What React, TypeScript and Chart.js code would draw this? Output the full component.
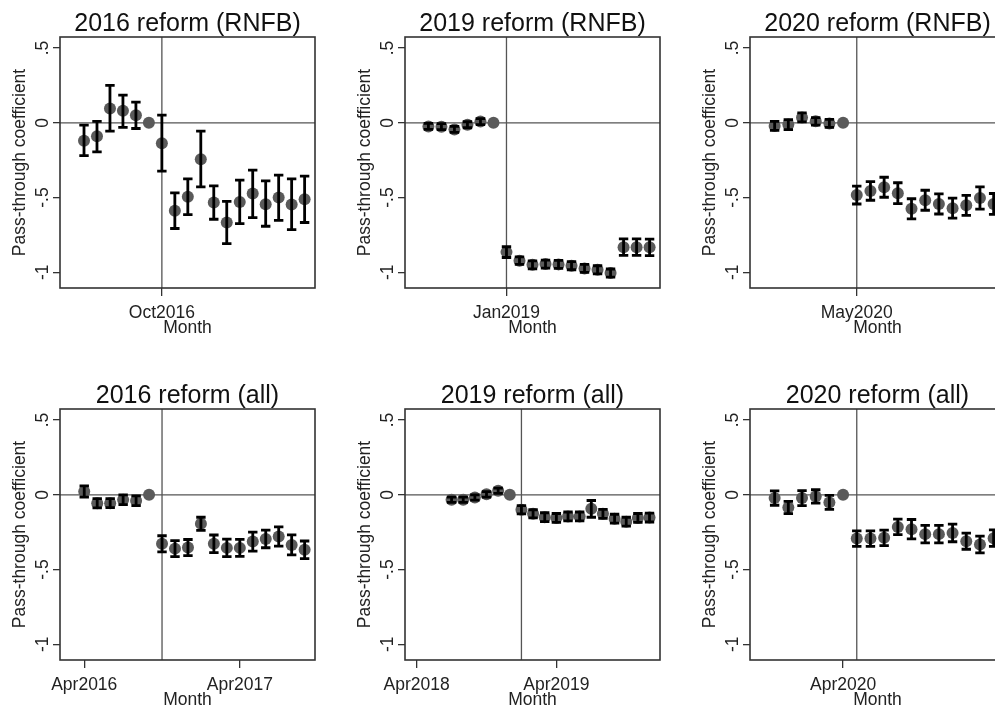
import React, { useEffect, useRef } from "react";
import { Chart, registerables } from "chart.js";

Chart.register(...registerables);

// ---------- data ----------
const months2016 = [
  "Apr2016", "May2016", "Jun2016", "Jul2016", "Aug2016", "Sep2016",
  "Oct2016", "Nov2016", "Dec2016", "Jan2017", "Feb2017", "Mar2017",
  "Apr2017", "May2017", "Jun2017", "Jul2017", "Aug2017", "Sep2017",
];
const months2019 = [
  "Jul2018", "Aug2018", "Sep2018", "Oct2018", "Nov2018", "Dec2018",
  "Jan2019", "Feb2019", "Mar2019", "Apr2019", "May2019", "Jun2019",
  "Jul2019", "Aug2019", "Sep2019", "Oct2019", "Nov2019", "Dec2019",
];
const months2020 = [
  "Nov2019", "Dec2019", "Jan2020", "Feb2020", "Mar2020", "Apr2020",
  "May2020", "Jun2020", "Jul2020", "Aug2020", "Sep2020", "Oct2020",
  "Nov2020", "Dec2020", "Jan2021", "Feb2021", "Mar2021",
];

// 2016 reform (RNFB)
const coef2016rnfb = [-0.12, -0.09, 0.095, 0.08, 0.05, 0, -0.136, -0.589, -0.495, -0.243, -0.533, -0.667, -0.529, -0.473, -0.545, -0.5, -0.547, -0.511];
const lo2016rnfb = [-0.22, -0.195, -0.055, -0.03, -0.038, null, -0.323, -0.707, -0.614, -0.428, -0.645, -0.808, -0.674, -0.634, -0.692, -0.652, -0.714, -0.667];
const hi2016rnfb = [-0.015, 0.01, 0.25, 0.185, 0.138, null, 0.052, -0.469, -0.375, -0.056, -0.422, -0.525, -0.384, -0.317, -0.388, -0.35, -0.375, -0.357];

// 2019 reform (RNFB)
const coef2019rnfb = [-0.024, -0.026, -0.044, -0.013, 0.008, 0, -0.865, -0.922, -0.95, -0.945, -0.947, -0.956, -0.974, -0.983, -1.005, -0.832, -0.832, -0.833];
const lo2019rnfb = [-0.044, -0.046, -0.064, -0.033, -0.012, null, -0.901, -0.947, -0.977, -0.972, -0.974, -0.983, -1.001, -1.01, -1.032, -0.887, -0.887, -0.888];
const hi2019rnfb = [-0.004, -0.006, -0.024, 0.007, 0.028, null, -0.829, -0.897, -0.923, -0.918, -0.92, -0.929, -0.947, -0.956, -0.978, -0.777, -0.777, -0.778];

// 2020 reform (RNFB)
const coef2020rnfb = [-0.021, -0.012, 0.036, 0.01, -0.004, 0, -0.483, -0.456, -0.431, -0.471, -0.575, -0.518, -0.543, -0.571, -0.552, -0.503, -0.543];
const lo2020rnfb = [-0.051, -0.045, 0.006, -0.015, -0.031, null, -0.543, -0.518, -0.498, -0.541, -0.642, -0.585, -0.61, -0.638, -0.619, -0.578, -0.613];
const hi2020rnfb = [0.009, 0.021, 0.066, 0.035, 0.023, null, -0.423, -0.394, -0.364, -0.401, -0.508, -0.451, -0.476, -0.504, -0.485, -0.428, -0.473];

// 2016 reform (all)
const coef2016all = [0.022, -0.056, -0.056, -0.033, -0.04, 0, -0.328, -0.36, -0.353, -0.194, -0.328, -0.355, -0.355, -0.313, -0.295, -0.279, -0.335, -0.368];
const lo2016all = [-0.016, -0.087, -0.086, -0.066, -0.073, null, -0.382, -0.414, -0.407, -0.238, -0.387, -0.414, -0.412, -0.377, -0.354, -0.343, -0.402, -0.427];
const hi2016all = [0.06, -0.025, -0.026, 0.0, -0.007, null, -0.274, -0.306, -0.299, -0.15, -0.269, -0.296, -0.298, -0.249, -0.236, -0.215, -0.268, -0.309];

// 2019 reform (all)
const coef2019all = [-0.033, -0.033, -0.018, 0.003, 0.027, 0, -0.1, -0.127, -0.15, -0.155, -0.145, -0.145, -0.094, -0.127, -0.16, -0.18, -0.155, -0.152];
const lo2019all = [-0.051, -0.051, -0.036, -0.015, 0.009, null, -0.127, -0.154, -0.18, -0.185, -0.175, -0.175, -0.15, -0.157, -0.19, -0.21, -0.185, -0.182];
const hi2019all = [-0.015, -0.015, 0.0, 0.021, 0.045, null, -0.073, -0.1, -0.12, -0.125, -0.115, -0.115, -0.038, -0.097, -0.13, -0.15, -0.125, -0.122];

// 2020 reform (all)
const coef2020all = [-0.022, -0.085, -0.022, -0.011, -0.051, 0, -0.293, -0.293, -0.288, -0.215, -0.23, -0.263, -0.263, -0.255, -0.31, -0.333, -0.29];
const lo2020all = [-0.07, -0.126, -0.072, -0.056, -0.098, null, -0.345, -0.345, -0.34, -0.267, -0.295, -0.321, -0.321, -0.314, -0.364, -0.389, -0.345];
const hi2020all = [0.026, -0.044, 0.028, 0.034, -0.004, null, -0.241, -0.241, -0.236, -0.163, -0.165, -0.205, -0.205, -0.196, -0.256, -0.277, -0.235];

const yTickValues = [-1, -0.5, 0, 0.5];
const yTickLabels = ["-1", "-.5", "0", ".5"];

const xTicks2016rnfb = ["Oct2016"];
const xTicks2019rnfb = ["Jan2019"];
const xTicks2020rnfb = ["May2020"];
const xTicks2016all = ["Apr2016", "Apr2017"];
const xTicks2019all = ["Apr2018", "Apr2019"];
const xTicks2020all = ["Apr2020"];

// ---------- helpers ----------
const MONTH_NAMES = ["Jan", "Feb", "Mar", "Apr", "May", "Jun", "Jul", "Aug", "Sep", "Oct", "Nov", "Dec"];
function monthNum(s: string): number {
  return parseInt(s.slice(3), 10) * 12 + MONTH_NAMES.indexOf(s.slice(0, 3));
}

const FONT = "'Liberation Sans', Arial, Helvetica, sans-serif";
const TEXT = "#222";
const LINE = "#333";

type PanelProps = {
  title: string;
  months: string[];
  coef: number[];
  lo: (number | null)[];
  hi: (number | null)[];
  reform: string;
  xTicks: string[];
  xMin: number;
  xMax: number;
  left: number;
  top: number;
};

const W = 345;
const H = 345;

function Panel(p: PanelProps) {
  const ref = useRef<HTMLCanvasElement | null>(null);
  useEffect(() => {
    if (!ref.current) return;
    const base = monthNum(p.reform);
    const xs = p.months.map((m) => monthNum(m) - base);
    const tickVals = p.xTicks.map((m) => monthNum(m) - base);

    const refLines = {
      id: "refLines",
      beforeDatasetsDraw(chart: any) {
        const { ctx, chartArea: a, scales } = chart;
        const y0 = scales.y.getPixelForValue(0);
        const x0 = scales.x.getPixelForValue(0);
        ctx.save();
        ctx.strokeStyle = "#555";
        ctx.lineWidth = 1.3;
        ctx.beginPath();
        ctx.moveTo(a.left, y0);
        ctx.lineTo(a.right, y0);
        ctx.moveTo(x0, a.top);
        ctx.lineTo(x0, a.bottom);
        ctx.stroke();
        ctx.restore();
      },
    };

    const errorBars = {
      id: "errorBars",
      afterDatasetsDraw(chart: any) {
        const { ctx, scales } = chart;
        ctx.save();
        ctx.strokeStyle = "#000";
        ctx.lineWidth = 2.8;
        ctx.lineCap = "butt";
        xs.forEach((xv, i) => {
          const l = p.lo[i];
          const h = p.hi[i];
          if (l === null || h === null) return;
          const x = scales.x.getPixelForValue(xv);
          const yl = scales.y.getPixelForValue(l);
          const yh = scales.y.getPixelForValue(h);
          const cw = 4.7;
          ctx.beginPath();
          ctx.moveTo(x, yl);
          ctx.lineTo(x, yh);
          ctx.moveTo(x - cw, yl);
          ctx.lineTo(x + cw, yl);
          ctx.moveTo(x - cw, yh);
          ctx.lineTo(x + cw, yh);
          ctx.stroke();
        });
        ctx.restore();
      },
    };

    const frame = {
      id: "frame",
      afterDraw(chart: any) {
        const { ctx, chartArea: a } = chart;
        ctx.save();
        ctx.strokeStyle = LINE;
        ctx.lineWidth = 1.6;
        ctx.strokeRect(a.left, a.top, a.right - a.left, a.bottom - a.top);
        ctx.restore();
      },
    };

    const chart = new Chart(ref.current, {
      type: "scatter",
      data: {
        datasets: [
          {
            data: xs.map((x, i) => ({ x, y: p.coef[i] })),
            pointRadius: 6,
            pointHoverRadius: 6,
            backgroundColor: "#5a5a5a",
            borderWidth: 0,
          },
        ],
      },
      options: {
        responsive: false,
        animation: false,
        devicePixelRatio: 1,
        events: [],
        layout: { padding: { left: 0, right: 30, top: 0, bottom: 0 } },
        plugins: {
          legend: { display: false },
          tooltip: { enabled: false },
          title: {
            display: true,
            text: p.title,
            fullSize: false,
            color: "#111",
            font: { family: FONT, size: 25, weight: "normal", lineHeight: 1 },
            padding: { top: 12, bottom: 0 },
          },
        },
        scales: {
          x: {
            type: "linear",
            min: p.xMin,
            max: p.xMax,
            afterBuildTicks: (s: any) => {
              s.ticks = tickVals.map((v) => ({ value: v }));
            },
            afterFit: (s: any) => {
              s.height = 57;
            },
            ticks: {
              autoSkip: false,
              minRotation: 0,
              maxRotation: 0,
              padding: 7,
              color: TEXT,
              font: { family: FONT, size: 17.5 },
              callback: (v: any) => {
                const i = tickVals.indexOf(v);
                return i >= 0 ? p.xTicks[i] : "";
              },
            },
            grid: {
              display: true,
              drawOnChartArea: false,
              drawTicks: true,
              tickLength: 8,
              color: LINE,
              lineWidth: 1.3,
            },
            border: { display: false },
            title: {
              display: true,
              text: "Month",
              color: TEXT,
              font: { family: FONT, size: 17.5, lineHeight: 1.2 },
              padding: { top: 0, bottom: 6 },
            },
          },
          y: {
            type: "linear",
            min: -1.105,
            max: 0.574,
            afterBuildTicks: (s: any) => {
              s.ticks = yTickValues.map((v) => ({ value: v }));
            },
            afterFit: (s: any) => {
              s.width = 60;
            },
            ticks: {
              autoSkip: false,
              minRotation: 90,
              maxRotation: 90,
              crossAlign: "center",
              padding: 0,
              color: TEXT,
              font: { family: FONT, size: 17.5 },
              callback: (v: any) => {
                const i = yTickValues.indexOf(v);
                return i >= 0 ? yTickLabels[i] : "";
              },
            },
            grid: {
              display: true,
              drawOnChartArea: false,
              drawTicks: true,
              tickLength: 7,
              color: LINE,
              lineWidth: 1.3,
            },
            border: { display: false },
            title: {
              display: true,
              text: "Pass-through coefficient",
              color: TEXT,
              font: { family: FONT, size: 17.5, lineHeight: 1.2 },
              padding: { top: 10, bottom: 0 },
            },
          },
        },
      } as any,
      plugins: [refLines, errorBars, frame],
    });
    return () => chart.destroy();
  }, []);
  return (
    <canvas
      ref={ref}
      width={W}
      height={H}
      style={{ position: "absolute", left: p.left, top: p.top, width: W, height: H }}
    />
  );
}

export default function App() {
  return (
    <div
      style={{
        position: "fixed",
        left: 0,
        top: 0,
        width: 995,
        height: 712,
        overflow: "hidden",
        background: "#fff",
      }}
    >
      <Panel title="2016 reform (RNFB)" months={months2016} coef={coef2016rnfb} lo={lo2016rnfb} hi={hi2016rnfb}
        reform="Oct2016" xTicks={xTicks2016rnfb} xMin={-7.85} xMax={11.8} left={0} top={0} />
      <Panel title="2019 reform (RNFB)" months={months2019} coef={coef2019rnfb} lo={lo2019rnfb} hi={hi2019rnfb}
        reform="Jan2019" xTicks={xTicks2019rnfb} xMin={-7.8} xMax={11.8} left={345} top={0} />
      <Panel title="2020 reform (RNFB)" months={months2020} coef={coef2020rnfb} lo={lo2020rnfb} hi={hi2020rnfb}
        reform="May2020" xTicks={xTicks2020rnfb} xMin={-7.8} xMax={10.83} left={690} top={0} />
      <Panel title="2016 reform (all)" months={months2016} coef={coef2016all} lo={lo2016all} hi={hi2016all}
        reform="Oct2016" xTicks={xTicks2016all} xMin={-7.87} xMax={11.8} left={0} top={372} />
      <Panel title="2019 reform (all)" months={months2019} coef={coef2019all} lo={lo2019all} hi={hi2019all}
        reform="Jan2019" xTicks={xTicks2019all} xMin={-10} xMax={11.9} left={345} top={372} />
      <Panel title="2020 reform (all)" months={months2020} coef={coef2020all} lo={lo2020all} hi={hi2020all}
        reform="May2020" xTicks={xTicks2020all} xMin={-7.8} xMax={10.83} left={690} top={372} />
    </div>
  );
}
